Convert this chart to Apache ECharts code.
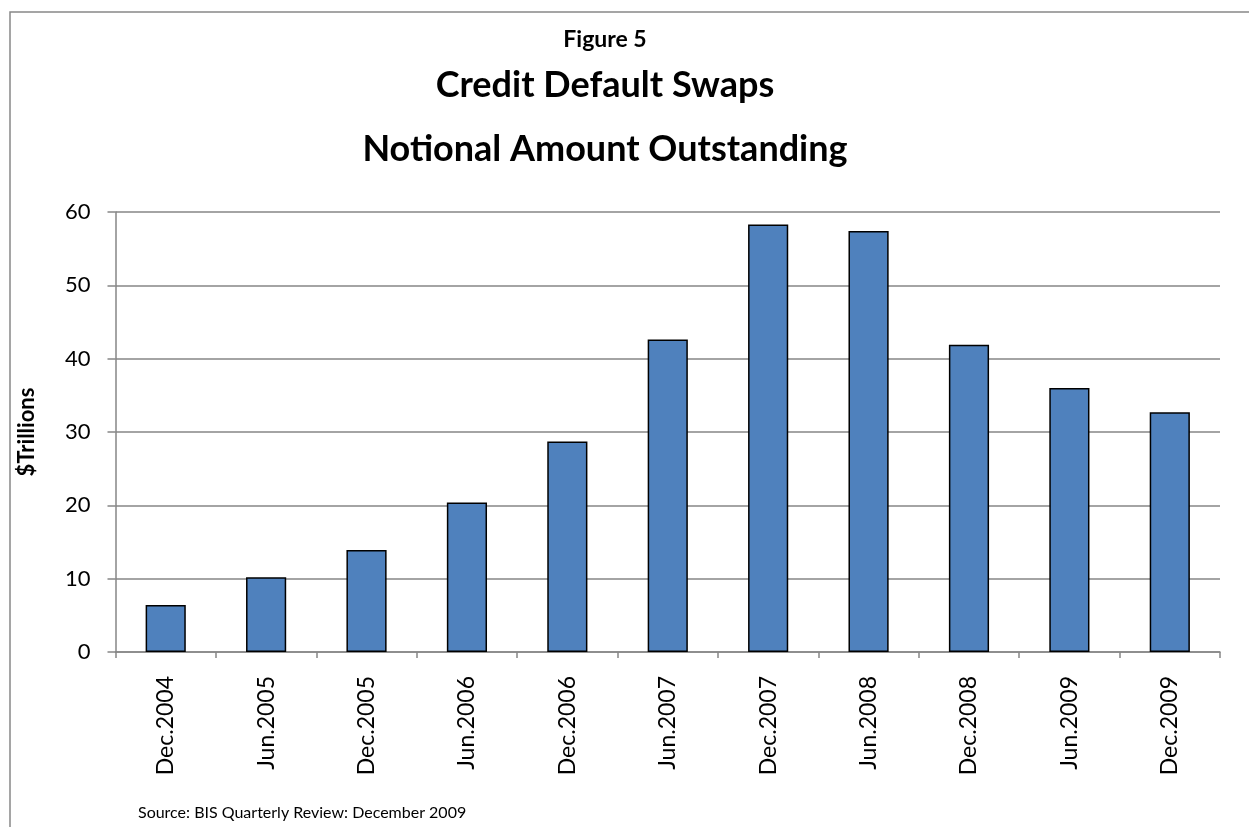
<!DOCTYPE html>
<html>
<head>
<meta charset="utf-8">
<script src="https://cdn.jsdelivr.net/npm/echarts@6/dist/echarts.min.js"></script>
<style>
html,body{margin:0;padding:0;background:#fff;}
#chart{width:1249px;height:827px;}
</style>
</head>
<body>
<div id="chart"></div>
<script>
const categories = ['Dec.2004','Jun.2005','Dec.2005','Jun.2006','Dec.2006','Jun.2007','Dec.2007','Jun.2008','Dec.2008','Jun.2009','Dec.2009'];
const notional = [6.4, 10.2, 13.9, 20.4, 28.7, 42.6, 58.3, 57.4, 41.9, 36.0, 32.7];
const yTicks = [0, 10, 20, 30, 40, 50, 60];

const FONT = 'Lato, "Open Sans", sans-serif';
const chart = echarts.init(document.getElementById('chart'));
chart.setOption({
  animation: false,
  backgroundColor: '#fff',
  title: [
    {text: 'Figure 5', left: 600, top: 23, textAlign: 'center',
     textStyle: {fontFamily: FONT, fontSize: 23, fontWeight: 'bold', color: '#000'}},
    {text: 'Credit Default Swaps', left: 600, top: 62, textAlign: 'center',
     textStyle: {fontFamily: FONT, fontSize: 36, fontWeight: 'bold', color: '#000'}},
    {text: 'Notional Amount Outstanding', left: 600, top: 126, textAlign: 'center',
     textStyle: {fontFamily: FONT, fontSize: 36, fontWeight: 'bold', color: '#000'}},
    {text: 'Source: BIS Quarterly Review: December 2009', left: 133, top: 800,
     textStyle: {fontFamily: FONT, fontSize: 16, fontWeight: 'normal', color: '#000'}}
  ],
  graphic: [
    {type: 'rect', silent: true, shape: {x: 10, y: 12, width: 1300, height: 900},
     style: {fill: 'none', stroke: '#888', lineWidth: 1.5}}
  ],
  grid: {left: 115.5, right: 29, top: 212, bottom: 175, containLabel: false},
  xAxis: {
    type: 'category',
    data: categories,
    axisLine: {show: true, lineStyle: {color: '#868686', width: 1.5}},
    axisTick: {show: true, length: 6, lineStyle: {color: '#868686', width: 1.5}},
    axisLabel: {rotate: 90, fontFamily: FONT, fontSize: 23, color: '#000', margin: 24}
  },
  yAxis: {
    type: 'value',
    min: 0, max: 60, interval: 10,
    name: '$Trillions',
    nameLocation: 'middle',
    nameGap: 78,
    nameRotate: 90,
    nameTextStyle: {fontFamily: FONT, fontSize: 22, fontWeight: 'bold', color: '#000'},
    axisLine: {show: true, lineStyle: {color: '#868686', width: 1.5}},
    axisTick: {show: true, length: 8, lineStyle: {color: '#868686', width: 1.5}},
    axisLabel: {fontFamily: FONT, fontSize: 22, color: '#000', margin: 25,
      formatter: v => yTicks.includes(v) ? String(v) : ''},
    splitLine: {show: true, lineStyle: {color: '#868686', width: 1.5}}
  },
  series: [{
    type: 'bar',
    data: notional,
    barWidth: '40%',
    itemStyle: {color: '#4F81BD', borderColor: '#000', borderWidth: 1.5}
  }]
});
</script>
</body>
</html>
